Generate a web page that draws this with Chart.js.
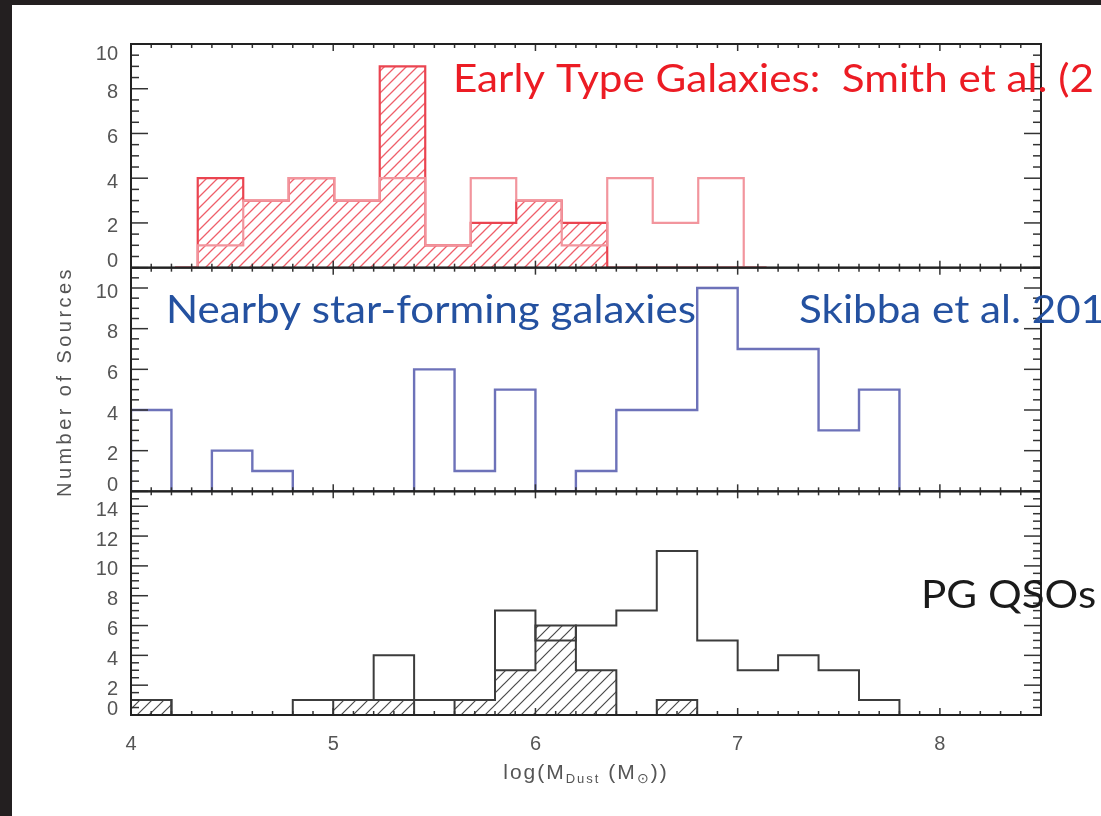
<!DOCTYPE html>
<html>
<head>
<meta charset="utf-8">
<script src="https://cdn.jsdelivr.net/npm/chart.js@4/dist/chart.umd.min.js"></script>
<style>
  html, body { margin: 0; padding: 0; background: #fff; }
  #wrap { position: relative; width: 1101px; height: 816px; overflow: hidden; }
  #frameTop { position: absolute; left: 0; top: 0; width: 1101px; height: 5px; background: #231f20; }
  #frameLeft { position: absolute; left: 0; top: 0; width: 12px; height: 816px; background: #231f20; }
  canvas { position: absolute; left: 0; top: 0; }
</style>
</head>
<body>
<div id="wrap">
  <canvas id="dustChart" width="1101" height="816"></canvas>
  <div id="frameTop"></div>
  <div id="frameLeft"></div>
</div>
<script>
// bin left edges (log M_dust)
const etgEdges = [4.33, 4.555, 4.78, 5.005, 5.23, 5.455, 5.68, 5.905, 6.13, 6.355, 6.58, 6.805];
const binEdges = [4.0, 4.2, 4.4, 4.6, 4.8, 5.0, 5.2, 5.4, 5.6, 5.8, 6.0, 6.2, 6.4, 6.6, 6.8, 7.0, 7.2, 7.4, 7.6, 7.8];

// Early type galaxies (Smith et al.)
const etgHatched = [4, 3, 4, 3, 9, 1, 2, 3, 2, 0, 0, 0];
const etgOpen    = [1, 3, 4, 3, 4, 1, 4, 3, 1, 4, 2, 4];

// Nearby star-forming galaxies (Skibba et al.)
const sfgCounts = [4, 0, 2, 1, 0, 0, 0, 6, 1, 5, 0, 1, 4, 4, 10, 7, 7, 3, 5, 0];

// PG QSOs
const qsoOpen    = [1, 0, 0, 0, 1, 1, 4, 1, 1, 7, 5, 6, 7, 11, 5, 3, 4, 3, 1, 0];
const qsoHatched = [1, 0, 0, 0, 0, 1, 1, 0, 1, 3, 6, 3, 0, 1, 0, 0, 0, 0, 0, 0];

const xTickLabels = [4, 5, 6, 7, 8];
const yTickStep = 2;
const panelMax = { yTop: 10, yMid: 11, yBot: 15 };

// step outline: half empty bin either side like the IDL histogram plot
function stepPoints(edges, counts) {
  const w = edges[1] - edges[0];
  const last = edges[edges.length - 1];
  const pts = [{ x: edges[0] - w / 2, y: 0 }];
  edges.forEach((e, i) => pts.push({ x: e, y: counts[i] }));
  pts.push({ x: last + w, y: 0 });
  pts.push({ x: last + w * 1.5, y: 0 });
  return pts;
}

function hatch(color, size, width) {
  const c = document.createElement('canvas');
  c.width = size; c.height = size;
  const g = c.getContext('2d');
  g.strokeStyle = color;
  g.lineWidth = width;
  g.beginPath();
  g.moveTo(-1, size + 1); g.lineTo(size + 1, -1);
  g.moveTo(-2, 2); g.lineTo(2, -2);
  g.moveTo(size - 2, size + 2); g.lineTo(size + 2, size - 2);
  g.stroke();
  return g.createPattern(c, 'repeat');
}

function histLine(data, axis, color, lw, order, fill) {
  return {
    data: data,
    yAxisID: axis,
    borderColor: color,
    borderWidth: lw,
    stepped: 'before',
    pointRadius: 0,
    fill: fill ? 'origin' : false,
    backgroundColor: fill || 'transparent',
    order: order
  };
}

function yAxis(max, weight) {
  return {
    type: 'linear', position: 'left', stack: 'panels', stackWeight: 1, weight: weight,
    min: 0, max: max,
    ticks: { display: false }, grid: { display: false }, border: { display: false },
    afterFit(s) { s.width = 131; }
  };
}

function line(ctx, x1, y1, x2, y2) {
  ctx.beginPath(); ctx.moveTo(x1, y1); ctx.lineTo(x2, y2); ctx.stroke();
}

const tickFont = '20px "Liberation Sans", Arial, sans-serif';
const tickColor = '#555';

const panelsPlugin = {
  id: 'panels',
  afterDatasetsDraw(chart) {
    const ctx = chart.ctx;
    const area = chart.chartArea;
    const xs = chart.scales.x;
    ctx.save();
    ['yTop', 'yMid', 'yBot'].forEach(id => {
      const ys = chart.scales[id];
      const top = ys.top, bottom = ys.bottom;
      ctx.strokeStyle = '#333';
      ctx.lineWidth = 1.5;
      for (let k = 0; k <= ys.max * 2; k++) {
        const v = k / 2;
        const y = ys.getPixelForValue(v);
        const len = v % yTickStep === 0 ? 17 : 8;
        line(ctx, area.left, y, area.left + len, y);
        line(ctx, area.right, y, area.right - len, y);
      }
      for (let i = 40; i <= 85; i++) {
        const x = xs.getPixelForValue(i / 10);
        const len = i % 10 === 0 ? 7 : 4;
        line(ctx, x, top, x, top + len);
        line(ctx, x, bottom, x, bottom - len);
      }
      ctx.strokeStyle = '#222';
      ctx.lineWidth = 2;
      ctx.strokeRect(area.left, top, area.right - area.left, bottom - top);

      // y tick labels
      ctx.fillStyle = tickColor;
      ctx.font = tickFont;
      ctx.textAlign = 'right';
      ctx.textBaseline = 'middle';
      const topLabel = Math.floor(ys.max / yTickStep) * yTickStep;
      for (let v = 0; v <= ys.max; v += yTickStep) {
        let y = ys.getPixelForValue(v) + 4;
        if (v === 0) y = bottom - 6;
        else if (v === topLabel && ys.getPixelForValue(v) - top < 6) y = top + 10;
        ctx.fillText(String(v), area.left - 13, y);
      }
    });

    // x tick labels
    ctx.textAlign = 'center';
    xTickLabels.forEach(v => ctx.fillText(String(v), xs.getPixelForValue(v), 744));

    // x title with subscripts
    const parts = [
      { t: 'log(M', f: 21, dy: 0 },
      { t: 'Dust', f: 13, dy: 6 },
      { t: ' (M', f: 21, dy: 0 },
      { t: '\u2299', f: 14, dy: 6 },
      { t: '))', f: 21, dy: 0 }
    ];
    ctx.letterSpacing = '2px';
    let total = 0;
    parts.forEach(p => { ctx.font = p.f + 'px "Liberation Sans", Arial, sans-serif'; p.w = ctx.measureText(p.t).width; total += p.w; });
    let x = (area.left + area.right) / 2 - total / 2;
    ctx.textAlign = 'left';
    parts.forEach(p => {
      ctx.font = p.f + 'px "Liberation Sans", Arial, sans-serif';
      ctx.fillText(p.t, x, 773 + p.dy);
      x += p.w;
    });

    // y title
    const yTitle = 'Number of Sources';
    ctx.font = tickFont;
    ctx.letterSpacing = '0px';
    const natural = ctx.measureText(yTitle).width;
    ctx.letterSpacing = ((231 - natural) / yTitle.length).toFixed(2) + 'px';
    ctx.translate(65, (area.top + area.bottom) / 2 + 2);
    ctx.rotate(-Math.PI / 2);
    ctx.textAlign = 'center';
    ctx.fillText(yTitle, 0, 0);
    ctx.restore();
  },
  afterDraw(chart) {
    const ctx = chart.ctx;
    ctx.save();
    ctx.font = '39px Lato, "Open Sans", sans-serif';
    ctx.textBaseline = 'alphabetic';
    ctx.textAlign = 'left';
    const squeeze = 530 / ctx.measureText('Nearby star-forming galaxies').width;
    // labels as they appear, cut by the slide edge
    const notes = [
      { t: 'Early Type Galaxies:  Smith et al. (2', x: 453, y: 92, c: '#ec1c24' },
      { t: 'Nearby star-forming galaxies', x: 166, y: 323, c: '#2451a0' },
      { t: 'Skibba et al. 201', x: 799, y: 323, c: '#2451a0' },
      { t: 'PG QSOs', x: 921, y: 608, c: '#1a1a1a' }
    ];
    notes.forEach(n => {
      ctx.save();
      ctx.translate(n.x, n.y);
      ctx.scale(squeeze, 1);
      ctx.fillStyle = n.c;
      ctx.fillText(n.t, 0, 0);
      ctx.restore();
    });
    ctx.restore();
  }
};

const ctx = document.getElementById('dustChart').getContext('2d');
new Chart(ctx, {
  type: 'line',
  data: {
    datasets: [
      histLine(stepPoints(etgEdges, etgHatched), 'yTop', '#ea4450', 2.2, 2, hatch('#ef5f6a', 11, 1.3)),
      histLine(stepPoints(etgEdges, etgOpen), 'yTop', '#f2959d', 2.2, 1),
      histLine(stepPoints(binEdges, sfgCounts), 'yMid', '#6d72b9', 2.4, 1),
      histLine(stepPoints(binEdges, qsoHatched), 'yBot', '#3c3c3c', 2, 2, hatch('#4a4a4a', 12, 1.2)),
      histLine(stepPoints(binEdges, qsoOpen), 'yBot', '#3c3c3c', 2, 1)
    ]
  },
  options: {
    responsive: false,
    animation: false,
    devicePixelRatio: 1,
    layout: { padding: { top: 44, right: 60, left: 0, bottom: 0 } },
    plugins: { legend: { display: false }, tooltip: { enabled: false } },
    scales: {
      x: {
        type: 'linear', position: 'bottom', min: 4, max: 8.5,
        ticks: { display: false }, grid: { display: false }, border: { display: false },
        afterFit(s) { s.height = 101; }
      },
      yTop: yAxis(panelMax.yTop, 3),
      yMid: yAxis(panelMax.yMid, 2),
      yBot: yAxis(panelMax.yBot, 1)
    }
  },
  plugins: [panelsPlugin]
});
</script>
</body>
</html>
